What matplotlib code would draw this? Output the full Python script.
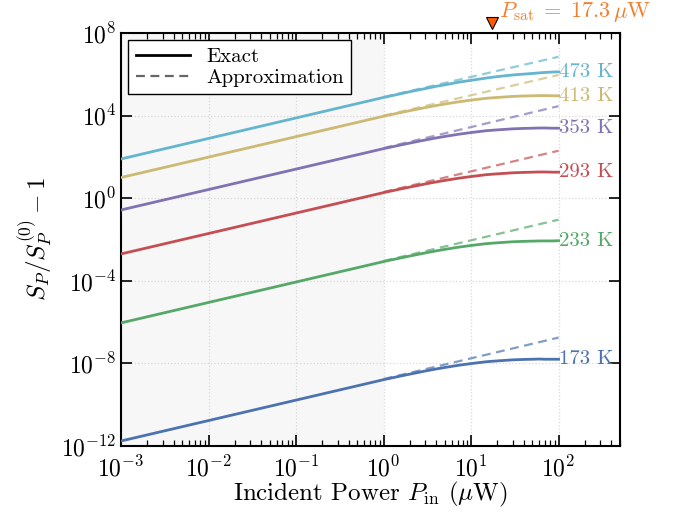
import numpy as np
import matplotlib
matplotlib.use("Agg")
import matplotlib.pyplot as plt
from matplotlib.ticker import LogLocator, NullLocator, FixedLocator
import matplotlib.transforms as mtransforms

plt.rcParams['font.family'] = 'serif'
plt.rcParams['font.serif'] = ['cmr10']
plt.rcParams['mathtext.fontset'] = 'cm'
plt.rcParams['axes.formatter.use_mathtext'] = True

# ---- data ----
temps = ["173 K", "233 K", "293 K", "353 K", "413 K", "473 K"]
colors = ["#4C72B0", "#55A868", "#C44E52", "#8172B2", "#CCB974", "#64B5CD"]

p_exact = [1e-3, 1, 1.5, 2, 3, 4, 5, 7, 10, 15, 20, 30, 40, 50, 60, 70, 85, 100]
log_exact_173 = [-11.76, -8.79, -8.63, -8.52, -8.37, -8.27, -8.20, -8.10, -8.01, -7.92, -7.88, -7.83, -7.81, -7.80, -7.79, -7.80, -7.80, -7.80]
log_exact_233 = [-6.04, -3.07, -2.91, -2.80, -2.65, -2.55, -2.48, -2.38, -2.29, -2.20, -2.16, -2.11, -2.09, -2.08, -2.07, -2.07, -2.07, -2.06]
log_exact_293 = [-2.70, 0.27, 0.43, 0.54, 0.69, 0.79, 0.86, 0.96, 1.05, 1.14, 1.18, 1.23, 1.25, 1.26, 1.27, 1.27, 1.26, 1.26]
log_exact_353 = [-0.57, 2.40, 2.56, 2.67, 2.82, 2.92, 2.99, 3.09, 3.18, 3.27, 3.31, 3.36, 3.38, 3.39, 3.40, 3.40, 3.39, 3.39]
log_exact_413 = [1.00, 3.97, 4.13, 4.24, 4.39, 4.49, 4.56, 4.66, 4.75, 4.84, 4.88, 4.93, 4.95, 4.96, 4.97, 4.97, 4.96, 4.96]
log_exact_473 = [1.90, 4.88, 5.04, 5.16, 5.31, 5.42, 5.49, 5.61, 5.71, 5.82, 5.89, 5.97, 6.01, 6.04, 6.07, 6.09, 6.11, 6.12]
log_exact = [log_exact_173, log_exact_233, log_exact_293, log_exact_353, log_exact_413, log_exact_473]

p_approx = [1, 100]
log_approx_173 = [-8.76, -6.75]
log_approx_233 = [-3.04, -1.04]
log_approx_293 = [0.30, 2.30]
log_approx_353 = [2.43, 4.46]
log_approx_413 = [4.00, 5.97]
log_approx_473 = [4.90, 6.85]
log_approx = [log_approx_173, log_approx_233, log_approx_293, log_approx_353, log_approx_413, log_approx_473]

p_sat = 17.3
shade_range = [1e-3, 1.0]
xlim = [1e-3, 500]
ylim = [1e-12, 1e8]
yticks = [1e-12, 1e-8, 1e-4, 1e0, 1e4, 1e8]

# ---- figure ----
fig = plt.figure(figsize=(6.94, 5.12), dpi=100)
ax = fig.add_axes([0.1744, 0.129, 0.7186, 0.8065])

ax.axvspan(shade_range[0], shade_range[1], color="#f7f7f7", zorder=0, lw=0)

for t, c, le, la in zip(temps, colors, log_exact, log_approx):
    ax.plot(p_approx, 10.0 ** np.array(la), ls=(0, (4, 2.5)), color=c, lw=1.6, alpha=0.7, zorder=2)
    ax.plot(p_exact, 10.0 ** np.array(le), ls='-', color=c, lw=2.0, zorder=3)
    ax.text(p_exact[-1] * 1.02, 10.0 ** le[-1], t, color=c, fontsize=15,
            va='center', ha='left', zorder=4)

ax.set_xscale('log')
ax.set_yscale('log')
ax.set_xlim(*xlim)
ax.set_ylim(*ylim)
ax.yaxis.set_major_locator(FixedLocator(yticks))
ax.yaxis.set_minor_locator(NullLocator())
ax.xaxis.set_major_locator(LogLocator(base=10, numticks=20))
ax.xaxis.set_minor_locator(LogLocator(base=10, subs=np.arange(2, 10), numticks=20))

ax.grid(True, which='major', ls=':', color='#d8d8d8', lw=0.9, zorder=1)
ax.tick_params(which='both', direction='in', top=True, right=True, labelsize=17)
ax.tick_params(axis='x', which='major', pad=7)
ax.tick_params(which='major', length=8, width=1.2)
ax.tick_params(which='minor', length=4, width=0.9)
for s in ax.spines.values():
    s.set_linewidth(1.5)

ax.set_xlabel(r'Incident Power $P_{\rm in}$ ($\mu$W)', fontsize=18, labelpad=-1)
ax.set_ylabel(r'$S_P/S_P^{(0)} - 1$', fontsize=18)

# legend
h1, = ax.plot([], [], color='black', lw=2.0, ls='-')
h2, = ax.plot([], [], color='#555555', lw=1.6, ls=(0, (4, 2.5)), alpha=0.9)
leg = ax.legend([h1, h2], ['Exact', 'Approximation'], loc='upper left', fontsize=15,
                fancybox=False, framealpha=1, edgecolor='black', handlelength=2.6,
                borderpad=0.35, labelspacing=0.1, borderaxespad=0.35, handletextpad=0.8)
leg.get_frame().set_linewidth(1.0)

# P_sat marker
trans = mtransforms.blended_transform_factory(ax.transData, ax.transAxes)
ax.plot([p_sat], [1.025], marker='v', markersize=8, markerfacecolor='#ff5a00',
        markeredgecolor='black', markeredgewidth=0.8, transform=trans, clip_on=False, zorder=5)
ax.text(p_sat * 1.22, 1.05, r'$P_{\rm sat}\;=\;17.3\,\mu$W', color='#f28030', fontsize=16,
        transform=trans, va='center', ha='left', clip_on=False)

fig.savefig('out.png', dpi=100)
